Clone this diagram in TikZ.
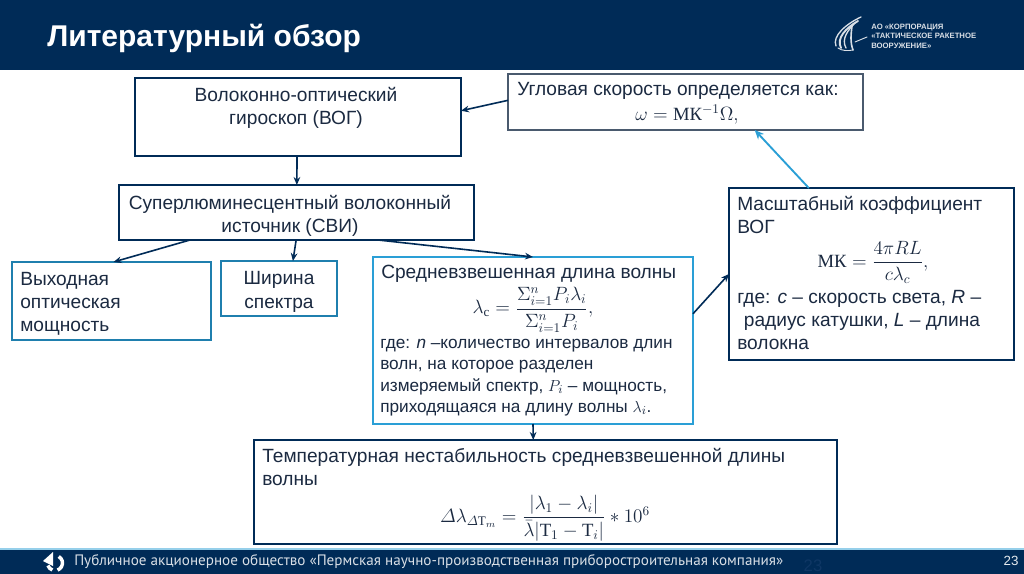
\documentclass[tikz,border=0pt]{standalone}
\usepackage{amsmath}
\usepackage{fontspec}
\setmainfont{Liberation Sans}
\newfontfamily\mrm{Liberation Serif}
\newfontfamily\foot{PT Sans}
\usetikzlibrary{calc,arrows.meta}
\definecolor{navy}{HTML}{002B57}
\definecolor{ink}{HTML}{1B2A41}
\definecolor{sky}{HTML}{2A9FD6}
\definecolor{teal}{HTML}{1F7FAE}
\definecolor{grayb}{HTML}{4A5A6E}
\definecolor{ghost}{HTML}{0F3765}
\newcommand{\mr}[1]{\text{\mrm #1}}
\tikzset{
  x=0.75pt,y=-0.75pt,
  box/.style={draw=#1,line width=1.5pt,fill=white,anchor=north west,inner sep=0pt,outer sep=0pt},
  txt/.style={text=ink,font=\fontsize{14.35pt}{17.4pt}\selectfont,anchor=north west,align=left,inner sep=0pt},
  ctr/.style={text=ink,font=\fontsize{14.35pt}{17.4pt}\selectfont,anchor=center,align=center,inner sep=0pt},
  mth/.style={text=ink,font=\fontsize{14pt}{17pt}\selectfont,anchor=center,inner sep=0pt},
  arr/.style={draw=navy,line width=1.2pt,-{Stealth[length=6pt,width=5pt]}},
  arrb/.style={draw=sky,line width=1.4pt,-{Stealth[length=7pt,width=6pt]}},
  band/.style={fill=navy,draw=none,anchor=north west,inner sep=0pt},
  logo/.style={draw=white!85!navy,line cap=round},
}
\begin{document}
\begin{tikzpicture}
\useasboundingbox (0,0) rectangle (1024,574);
\fill[white] (0,0) rectangle (1024,574);
% bands
\node[band,minimum width=768pt,minimum height=52pt] (head) at (0,0) {};
\node[band,minimum width=768pt,minimum height=18.75pt] (footband) at (0,549) {};
\draw[draw=sky!50!white,line width=0.8pt] (footband.north west) -- (footband.north east);
\node[anchor=west,text=white,inner sep=0pt,font=\fontsize{22.5pt}{26pt}\selectfont\bfseries] (title) at (47,38) {Литературный обзор};
% logo
\node[anchor=west,inner sep=0pt,align=left,text=white!85!navy,font=\fontsize{5.8pt}{7.2pt}\selectfont\bfseries] (logotext) at (871,36) {АО «КОРПОРАЦИЯ\\«ТАКТИЧЕСКОЕ РАКЕТНОЕ\\ВООРУЖЕНИЕ»};
\draw[logo,line width=1pt] (861,17) .. controls (846,24) and (832,36) .. (836,46);
\draw[logo,line width=1.4pt] (858,21) .. controls (846,28) and (836,38) .. (841,48);
\draw[logo,line width=1pt] (855,23) .. controls (848,30) and (841,39) .. (846,48);
\draw[logo,line width=1.2pt] (852,26) .. controls (851,34) and (850,42) .. (853,50);
\draw[logo,line width=0.7pt] (855,42) -- (867,37);
\draw[logo,line width=0.7pt] (838,48) .. controls (842,51) and (848,51) .. (853,50);
% footer
\fill[white] (43,561) -- (53,552) -- (53,566) -- cycle;
\draw[white,line width=2.6pt] (58.75,556.5) arc[start angle=-60,end angle=70,radius=7.5];
\draw[white,line width=2.6pt] (52.4,570) arc[start angle=110,end angle=160,radius=7.5];
\node[anchor=west,inner sep=0pt,text=white!85!navy,font=\foot\fontsize{11.35pt}{14pt}\selectfont] (foottext) at (74,562) {Публичное акционерное общество «Пермская научно-производственная приборостроительная компания»};
\node[anchor=center,inner sep=0pt,text=white!90!navy,font=\fontsize{10pt}{12pt}\selectfont] (pagenum) at (1011,561) {23};
\node[anchor=center,inner sep=0pt,text=ghost,font=\fontsize{12.5pt}{14pt}\selectfont] (ghostnum) at (813,566) {23};
% boxes
\node[box=navy,minimum width=244.5pt,minimum height=58.5pt] (vog) at (135,78) {};
\node[box=navy,minimum width=266.25pt,minimum height=41.25pt] (svi) at (119,185) {};
\node[box=teal,minimum width=149.25pt,minimum height=58.5pt] (power) at (12,262) {};
\node[box=teal,minimum width=87pt,minimum height=41.25pt] (width) at (221,261) {};
\node[box=sky,minimum width=240pt,minimum height=125.25pt] (lambda) at (373,257) {};
\node[box=navy,minimum width=437.25pt,minimum height=78pt] (temp) at (254,440) {};
\node[box=navy,minimum width=213.75pt,minimum height=129pt] (scale) at (729,188) {};
\node[box=grayb,minimum width=266.25pt,minimum height=42pt,line width=1.2pt] (omega) at (508,74) {};
% texts
\node[ctr] (vogt) at (296,108) {Волоконно-оптический\\гироскоп (ВОГ)};
\node[ctr] (svit) at (290,216) {Суперлюминесцентный волоконный\\источник (СВИ)};
\node[txt] (powert) at (20,272) {Выходная\\оптическая\\мощность};
\node[ctr] (widtht) at (279,292) {Ширина\\спектра};
\node[txt] (omegat) at (517,82) {Угловая скорость определяется как:};
\node[mth] (omegaf) at (687,115) {$\omega=\mr{МК}^{-1}\Omega,$};
\node[txt] (lambdat) at (381,265) {Средневзвешенная длина волны};
\node[mth] (lambdaf) at (533,310) {$\lambda_{\mr{c}}=\dfrac{\Sigma_{i=1}^{n}P_i\lambda_i}{\Sigma_{i=1}^{n}P_i},$};
\node[txt,font=\fontsize{12.9pt}{16pt}\selectfont] (lambdaw) at (380,339) {где: \textit{n} –количество интервалов длин\\волн, на которое разделен\\измеряемый спектр, $P_i$ – мощность,\\приходящаяся на длину волны $\lambda_i$.};
\node[txt] (tempt) at (262,448) {Температурная нестабильность средневзвешенной длины\\волны};
\node[mth] (tempf) at (545,518) {$\varDelta\lambda_{\varDelta\mr{T}_m}=\dfrac{|\lambda_1-\lambda_i|}{\bar\lambda|\mr{T}_1-\mr{T}_i|}*10^6$};
\node[txt] (scalet) at (737,196) {Масштабный коэффициент\\ВОГ};
\node[mth] (scalef) at (873,262) {$\mr{МК}=\dfrac{4\pi RL}{c\lambda_c},$};
\node[txt] (scalew) at (737,290) {где: \textit{с} – скорость света, \textit{R} –\\\hspace{0.35em}радиус катушки, \textit{L} – длина\\волокна};
% connectors
\draw[arr] ($(omega.north west)!0.47!(omega.south west)$) -- ($(vog.north east)!0.42!(vog.south east)$);
\draw[arr] ($(vog.south west)!0.497!(vog.south east)$) -- ($(svi.north west)!0.501!(svi.north east)$);
\draw[arr] ($(svi.south west)!0.2!(svi.south east)$) -- ($(power.north west)!0.51!(power.north east)$);
\draw[arr] ($(svi.south west)!0.499!(svi.south east)$) -- ($(width.north west)!0.62!(width.north east)$);
\draw[arr] ($(svi.south west)!0.73!(svi.south east)$) -- ($(lambda.north west)!0.5!(lambda.north east)$);
\draw[arr] (lambda.south) -- ($(temp.north west)!0.479!(temp.north east)$);
\draw[arr] ($(lambda.north east)!0.34!(lambda.south east)$) -- ($(scale.north west)!0.5!(scale.south west)$);
\draw[arrb] ($(scale.north west)!0.28!(scale.north east)$) -- ($(omega.south west)!0.695!(omega.south east)$);
\end{tikzpicture}
\end{document}
